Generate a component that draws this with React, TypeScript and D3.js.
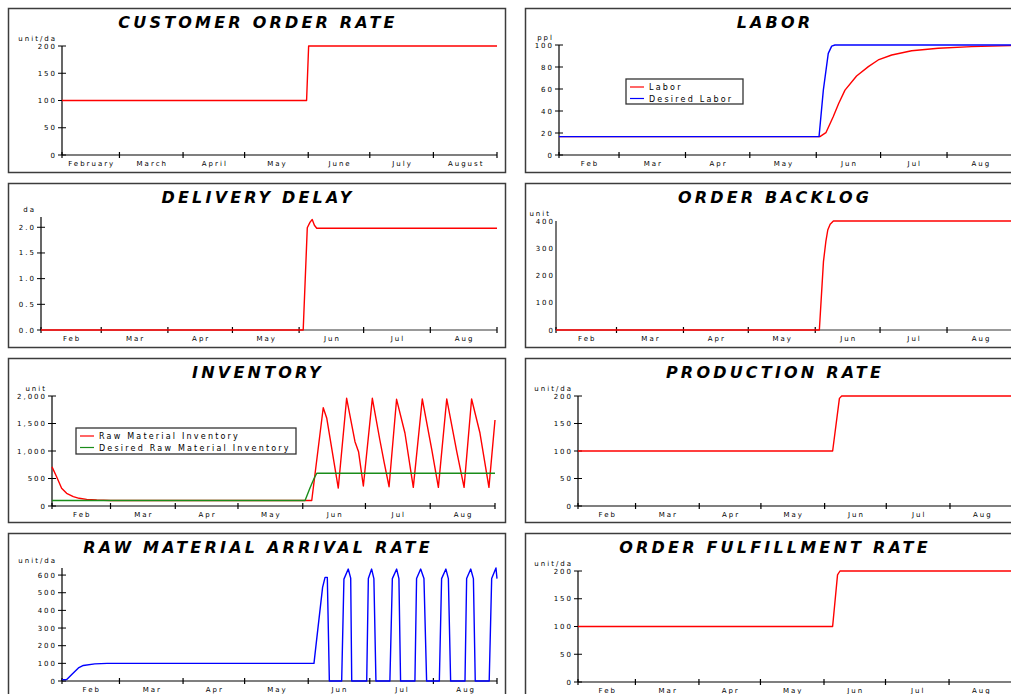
import React from 'react';
import * as d3 from 'd3';

// month labels under the x axis
const monthLong = ['February', 'March', 'April', 'May', 'June', 'July', 'August'];
const monthShort = ['Feb', 'Mar', 'Apr', 'May', 'Jun', 'Jul', 'Aug'];

// all series are [day since Feb 1, value]
const customerOrderRate = [[0, 100], [119.2, 100], [120.2, 200], [212, 200]];

const labor = [
  [0, 16.7], [121.7, 16.7], [124.5, 20.3], [127.9, 34.8], [130.5, 47], [133.4, 59],
  [138.8, 71.8], [144.3, 80.3], [148.9, 86.4], [155.2, 90.9], [164.5, 94.8],
  [176.9, 97], [192.5, 98.5], [212, 99.5],
];
const desiredLabor = [
  [0, 16.7], [121.3, 16.7], [123.3, 59], [125.6, 92.4], [127.2, 99], [128.7, 100], [212, 100],
];

const deliveryDelay = [
  [0, 0], [121.9, 0], [123.8, 1.99], [125.1, 2.1], [126.1, 2.15], [127.1, 2.04],
  [128.2, 1.98], [212, 1.98],
];

const orderBacklog = [
  [0, 0], [121.9, 0], [123.8, 251], [124.9, 324], [125.8, 367], [126.9, 388],
  [128.4, 400], [212, 400],
];

const rawMaterialInventory = [
  [0, 712], [2.2, 533], [4.6, 321], [7, 230], [10.2, 170], [13, 140], [16.6, 120],
  [21.4, 108], [28, 100], [124.3, 100],
  [129.8, 1787], [131.5, 1594], [137, 327],
  [141, 1958], [145, 1169], [146.7, 987], [149, 364],
  [153.3, 1958], [156.9, 1200], [159, 782], [161.3, 351],
  [164.9, 1940], [168.9, 1327], [172.9, 339],
  [177.2, 1946], [181.7, 1036], [184.9, 339],
  [188.9, 1946], [193.7, 987], [197.2, 339],
  [200.8, 1946], [204.8, 1327], [209.1, 339],
  [212, 1563],
];
const desiredRawMaterialInventory = [
  [0, 100], [121.1, 100], [123.5, 330], [125.4, 500], [126.7, 595], [212, 595],
];

const productionRate = [[0, 100], [123.9, 100], [127.2, 195.7], [128.3, 200], [212, 200]];

const rawMaterialArrivalRate = [
  [0, 8], [2.3, 8], [5, 40], [8, 74], [10.4, 88], [16, 97], [22, 100], [122.8, 100],
  [124.1, 234], [127, 530], [128.2, 587], [129.3, 587], [130.3, 0],
  [136.3, 0], [137.4, 577], [139.5, 634], [140.7, 583], [141.2, 0],
  [148.5, 0], [149.3, 580], [150.9, 634], [152, 580], [153, 0],
  [159.8, 0], [161, 580], [163.1, 634], [164.2, 580], [165, 0],
  [172, 0], [172.8, 580], [174.8, 634], [176.4, 580], [177.7, 0],
  [183.9, 0], [185, 580], [187.1, 634], [188.3, 580], [189.4, 0],
  [196.4, 0], [197.2, 580], [199.2, 634], [200.5, 580], [201.4, 0],
  [208.2, 0], [209.4, 580], [211.5, 640], [212, 580],
];

const orderFulfillmentRate = [[0, 100], [124.2, 100], [126.6, 193], [127.8, 200], [212, 200]];

const FONT = 'DejaVu Sans, Verdana, sans-serif';
const PW = 497;
const PH = 164;

const panels = [
  {
    title: 'CUSTOMER ORDER RATE', unit: 'unit/da', left: 8, top: 8,
    axisX: 54, xEnd: 489, plotTop: 38, plotBottom: 147, yMax: 200,
    ticks: [0, 50, 100, 150, 200], fmt: d3.format('d'), months: monthLong,
    series: [{ data: customerOrderRate, color: '#ff0000' }],
  },
  {
    title: 'LABOR', unit: 'ppl', left: 525, top: 8,
    axisX: 34, xEnd: 488.5, plotTop: 37, plotBottom: 147, yMax: 100,
    ticks: [0, 20, 40, 60, 80, 100], fmt: d3.format('d'), months: monthShort,
    series: [
      { data: labor, color: '#ff0000', name: 'Labor' },
      { data: desiredLabor, color: '#0000ff', name: 'Desired Labor' },
    ],
    legend: { x: 101, y: 71, w: 117, h: 25 },
  },
  {
    title: 'DELIVERY DELAY', unit: 'da', left: 8, top: 183,
    axisX: 33, xEnd: 489, plotTop: 34, plotBottom: 147, yMax: 2.2,
    ticks: [0, 0.5, 1, 1.5, 2], fmt: d3.format('.1f'), months: monthShort,
    series: [{ data: deliveryDelay, color: '#ff0000' }], grayX: true,
  },
  {
    title: 'ORDER BACKLOG', unit: 'unit', left: 525, top: 183,
    axisX: 31, xEnd: 489, plotTop: 38, plotBottom: 147, yMax: 400,
    ticks: [0, 100, 200, 300, 400], fmt: d3.format('d'), months: monthShort,
    series: [{ data: orderBacklog, color: '#ff0000' }], grayX: true, grayY: true, noYTicks: true,
  },
  {
    title: 'INVENTORY', unit: 'unit', left: 8, top: 358,
    axisX: 44, xEnd: 487, plotTop: 38, plotBottom: 148, yMax: 2000,
    ticks: [0, 500, 1000, 1500, 2000], fmt: d3.format(','), months: monthShort,
    series: [
      { data: rawMaterialInventory, color: '#ff0000', name: 'Raw Material Inventory' },
      { data: desiredRawMaterialInventory, color: '#1a8c1a', name: 'Desired Raw Material Inventory' },
    ],
    legend: { x: 68, y: 70, w: 220, h: 26 },
  },
  {
    title: 'PRODUCTION RATE', unit: 'unit/da', left: 525, top: 358,
    axisX: 53, xEnd: 488.7, plotTop: 38, plotBottom: 148, yMax: 200,
    ticks: [0, 50, 100, 150, 200], fmt: d3.format('d'), months: monthShort,
    series: [{ data: productionRate, color: '#ff0000' }],
  },
  {
    title: 'RAW MATERIAL ARRIVAL RATE', unit: 'unit/da', left: 8, top: 533,
    axisX: 54, xEnd: 489, plotTop: 35, plotBottom: 148, yMax: 640,
    ticks: [0, 100, 200, 300, 400, 500, 600], fmt: d3.format('d'), months: monthShort,
    series: [{ data: rawMaterialArrivalRate, color: '#0000ff' }],
  },
  {
    title: 'ORDER FULFILLMENT RATE', unit: 'unit/da', left: 525, top: 533,
    axisX: 53, xEnd: 487.6, plotTop: 38, plotBottom: 149, yMax: 200,
    ticks: [0, 50, 100, 150, 200], fmt: d3.format('d'), months: monthShort,
    series: [{ data: orderFulfillmentRate, color: '#ff0000' }],
  },
];

const start = Date.UTC(2023, 1, 1);
const end = Date.UTC(2023, 8, 1);
const toDate = (day: number) => new Date(start + day * 864e5);

const App = () => {
  const svgRef = React.useRef<SVGSVGElement>(null);

  React.useEffect(() => {
    const svg = d3.select(svgRef.current);
    svg.selectAll('*').remove();

    panels.forEach((p) => {
      const g = svg.append('g').attr('transform', `translate(${p.left},${p.top})`);

      g.append('rect')
        .attr('x', 0.5).attr('y', 0.5)
        .attr('width', PW).attr('height', PH)
        .attr('fill', 'white')
        .attr('stroke', '#3c3c3c')
        .attr('stroke-width', 1.5);

      const x = d3.scaleUtc()
        .domain([new Date(start), new Date(end)])
        .range([p.axisX, p.xEnd]);
      const y = d3.scaleLinear()
        .domain([0, p.yMax])
        .range([p.plotBottom, p.plotTop]);

      // title
      g.append('text')
        .attr('x', PW / 2 + 1.5)
        .attr('y', 20)
        .attr('text-anchor', 'middle')
        .style('font-family', FONT)
        .style('font-size', '16px')
        .style('font-weight', 'bold')
        .style('font-style', 'italic')
        .style('letter-spacing', '3.2px')
        .text(p.title);

      // unit
      g.append('text')
        .attr('x', p.axisX - 5)
        .attr('y', p.plotTop - 5)
        .attr('text-anchor', 'end')
        .style('font-family', FONT)
        .style('font-size', '7px')
        .style('letter-spacing', '2px')
        .text(p.unit);

      // y axis
      g.append('line')
        .attr('x1', p.axisX).attr('x2', p.axisX)
        .attr('y1', y(0)).attr('y2', y(p.yMax))
        .attr('stroke', p.grayY ? '#777' : '#000')
        .attr('stroke-width', p.grayY ? 2 : 1.2);

      p.ticks.forEach((t) => {
        if (!p.noYTicks) {
          g.append('line')
            .attr('x1', p.axisX - 4).attr('x2', p.axisX + 4)
            .attr('y1', y(t)).attr('y2', y(t))
            .attr('stroke', '#000');
        }
        g.append('text')
          .attr('x', p.noYTicks ? p.axisX - 1 : p.axisX - 5)
          .attr('y', y(t) + 2.5)
          .attr('text-anchor', 'end')
          .style('font-family', FONT)
          .style('font-size', '7px')
          .style('letter-spacing', '2px')
          .text(p.fmt(t));
      });

      // x axis
      g.append('line')
        .attr('x1', p.axisX).attr('x2', p.xEnd)
        .attr('y1', p.plotBottom).attr('y2', p.plotBottom)
        .attr('stroke', p.grayX ? '#999' : '#000')
        .attr('stroke-width', p.grayX ? 2 : 1.2);

      const monthStarts = d3.utcMonth.range(new Date(start), new Date(end + 1));
      monthStarts.forEach((m) => {
        g.append('line')
          .attr('x1', x(m)).attr('x2', x(m))
          .attr('y1', p.plotBottom - 3).attr('y2', p.plotBottom + 3)
          .attr('stroke', '#000')
          .attr('stroke-width', 1.2);
      });
      p.months.forEach((label, i) => {
        const mid = (x(monthStarts[i]) + x(monthStarts[i + 1])) / 2;
        g.append('text')
          .attr('x', mid + 1)
          .attr('y', p.plotBottom + 11)
          .attr('text-anchor', 'middle')
          .style('font-family', FONT)
          .style('font-size', '7px')
          .style('letter-spacing', '2px')
          .text(label);
      });

      // series
      const line = d3.line<number[]>()
        .x((d) => x(toDate(d[0])))
        .y((d) => y(d[1]));

      p.series.forEach((s) => {
        g.append('path')
          .attr('d', line(s.data))
          .attr('fill', 'none')
          .attr('stroke', s.color)
          .attr('stroke-width', 1.4)
          .attr('stroke-linejoin', 'round');
      });

      // legend
      if (p.legend) {
        const lg = g.append('g').attr('transform', `translate(${p.legend.x},${p.legend.y})`);
        lg.append('rect')
          .attr('width', p.legend.w).attr('height', p.legend.h)
          .attr('fill', 'white')
          .attr('stroke', '#333')
          .attr('stroke-width', 1.3);
        p.series.forEach((s, i) => {
          const yy = 8 + i * 11.5;
          lg.append('line')
            .attr('x1', 4).attr('x2', 18)
            .attr('y1', yy).attr('y2', yy)
            .attr('stroke', s.color)
            .attr('stroke-width', 1.2);
          lg.append('text')
            .attr('x', 23)
            .attr('y', yy + 3)
            .style('font-family', FONT)
            .style('font-size', '8px')
            .style('letter-spacing', '2.2px')
            .text(s.name);
        });
      }
    });
  }, []);

  return (
    <svg
      ref={svgRef}
      width={1011}
      height={694}
      style={{ position: 'absolute', left: 0, top: 0, background: 'white' }}
    />
  );
};

export default App;
